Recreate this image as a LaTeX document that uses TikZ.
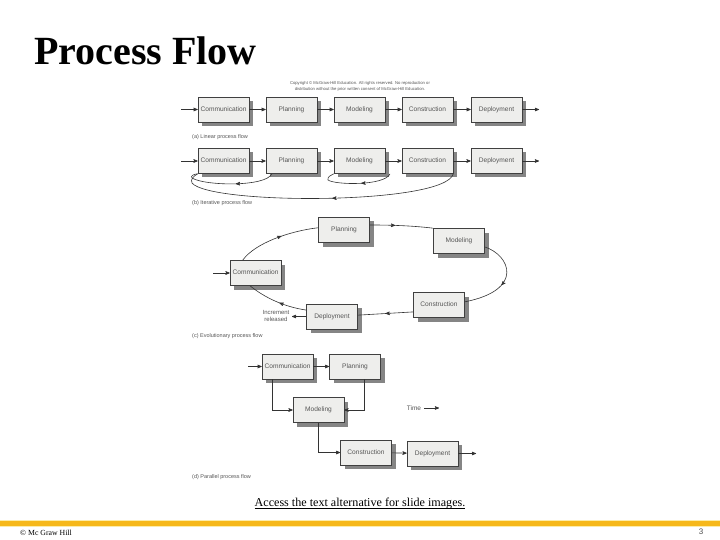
\documentclass[tikz,border=0pt]{standalone}
\usepackage{fontspec}
\setmainfont{Liberation Serif}
\newfontfamily\boxfont{Liberation Sans}
\usetikzlibrary{arrows}
\usetikzlibrary{shadows}
\usetikzlibrary{decorations.markings}
\definecolor{barGold}{RGB}{246,184,26}
\definecolor{barPale}{RGB}{252,236,170}
\definecolor{boxFill}{RGB}{238,238,236}
\definecolor{boxText}{RGB}{85,85,85}
\tikzset{
	node_box/.style = {
		rectangle,
		inner sep=0pt,
		align=center,
		draw=black!75,
		line width=0.6pt,
		fill=boxFill,
		text=boxText,
		font=\boxfont\fontsize{6.6}{7}\selectfont,
		text height=5pt,
		text depth=1.4pt,
		minimum width=51pt,
		minimum height=25pt,
		drop shadow={shadow xshift=4pt, shadow yshift=-4pt, fill=black!48, opacity=1}
	},
	node_cap/.style = {
		inner sep=0pt,
		anchor=west,
		text=boxText,
		font=\boxfont\fontsize{5.5}{6.5}\selectfont
	},
	node_note/.style = {
		node_cap,
		anchor=center,
		align=center,
		font=\boxfont\fontsize{4.2}{6}\selectfont
	},
	flow/.style = {
		->,
		line width=0.6pt,
		draw=black!80
	},
	mid_flow/.style = {
		line width=0.6pt,
		draw=black!80,
		postaction={decorate},
		decoration={markings, mark=at position #1 with {\arrow{stealth'}}}
	},
}
\begin{document}
\begin{tikzpicture}[>=stealth', x=1pt, y=-1pt]
\useasboundingbox (0,0) rectangle (720,540);
\node [inner sep=0pt, anchor=west, font=\fontsize{40}{42}\selectfont\bfseries] (title) at (34,51) {Process Flow};
\node [node_note] (copyright) at (360,86) {Copyright \copyright\ McGraw-Hill Education. All rights reserved. No reproduction or\\distribution without the prior written consent of McGraw-Hill Education.};

% linear
\node [node_box] (comm_a) at (223.5,109.5) {Communication};
\node [node_box] (plan_a) at (291.5,109.5) {Planning};
\node [node_box] (model_a) at (359.5,109.5) {Modeling};
\node [node_box] (cons_a) at (427.5,109.5) {Construction};
\node [node_box] (depl_a) at (496.5,109.5) {Deployment};
\coordinate (in_a) at (181,109.5);
\coordinate (out_a) at (539,109.5);
\node [node_cap] (cap_a) at (192,137) {(a) Linear process flow};
\draw [flow] (in_a) -- (comm_a);
\draw [flow] (comm_a) -- (plan_a);
\draw [flow] (plan_a) -- (model_a);
\draw [flow] (model_a) -- (cons_a);
\draw [flow] (cons_a) -- (depl_a);
\draw [flow] (depl_a) -- (out_a);

% iterative
\node [node_box] (comm_b) at (223.5,161) {Communication};
\node [node_box] (plan_b) at (291.5,161) {Planning};
\node [node_box] (model_b) at (359.5,161) {Modeling};
\node [node_box] (cons_b) at (427.5,161) {Construction};
\node [node_box] (depl_b) at (496.5,161) {Deployment};
\coordinate (in_b) at (181,161);
\coordinate (out_b) at (539,161);
\coordinate (loop_r) at (390,174);
\node [node_cap] (cap_b) at (192,203) {(b) Iterative process flow};
\draw [flow] (in_b) -- (comm_b);
\draw [flow] (comm_b) -- (plan_b);
\draw [flow] (plan_b) -- (model_b);
\draw [flow] (model_b) -- (cons_b);
\draw [flow] (cons_b) -- (depl_b);
\draw [flow] (depl_b) -- (out_b);
\draw [mid_flow=0.42] (plan_b.213) .. controls (266,187) and (205,186) .. (192,178) .. controls (190,176) and (194,174) .. (comm_b.south west);
\draw [mid_flow=0.42] (loop_r) .. controls (384,186) and (335,185) .. (328,180) .. controls (327,177) and (331,175) .. (model_b.south west);
\draw [mid_flow=0.45] (cons_b.south east) .. controls (445,205) and (210,205) .. (192,183) .. controls (190,179) and (194,176) .. (comm_b.south west);

% evolutionary
\node [node_box] (comm_c) at (255.5,273) {Communication};
\node [node_box] (plan_c) at (344,230) {Planning};
\node [node_box] (model_c) at (459,241) {Modeling};
\node [node_box] (cons_c) at (439,305) {Construction};
\node [node_box] (depl_c) at (332,316.5) {Deployment};
\coordinate (in_c) at (213,273);
\coordinate (done_c) at (292,316.5);
\node [node_cap, anchor=center, align=center, font=\boxfont\fontsize{6}{7}\selectfont] (done_lab) at (276,316) {Increment\\released};
\node [node_cap] (cap_c) at (192,336) {(c) Evolutionary process flow};
\draw [flow] (in_c) -- (comm_c);
\draw [mid_flow=0.55] (comm_c.135) .. controls (255,243) and (290,231) .. (plan_c.175);
\draw [mid_flow=0.4] (plan_c.11) .. controls (395,225) and (415,226) .. (model_c.north west);
\draw [mid_flow=0.55] (model_c.-13) .. controls (510,255) and (525,290) .. (cons_c.7);
\draw [mid_flow=0.5] (cons_c.195) -- (depl_c.3);
\draw [mid_flow=0.45] (depl_c.166) .. controls (285,307) and (265,298) .. (comm_c.247);
\draw [flow] (depl_c) -- (done_c);

% parallel
\node [node_box] (comm_d) at (287.5,366.5) {Communication};
\node [node_box] (plan_d) at (355,366.5) {Planning};
\node [node_box] (model_d) at (318.5,410) {Modeling};
\node [node_box] (cons_d) at (366,452.5) {Construction};
\node [node_box] (depl_d) at (432.5,453.5) {Deployment};
\coordinate (in_d) at (248,366.5);
\coordinate (out_d) at (476,453.5);
\coordinate (time_end) at (439,408);
\node [node_cap, anchor=center, outer sep=3pt, font=\boxfont\fontsize{6.5}{7}\selectfont] (time_lab) at (414,408) {Time};
\node [node_cap] (cap_d) at (192,477) {(d) Parallel process flow};
\draw [flow] (in_d) -- (comm_d);
\draw [flow] (comm_d) -- (plan_d);
\draw [flow] (comm_d.221) |- (model_d.west);
\draw [flow] (plan_d.306) |- (model_d.east);
\draw [flow] (model_d.south) |- (cons_d.west);
\draw [flow] (cons_d) -- (depl_d);
\draw [flow] (depl_d) -- (out_d);
\draw [flow] (time_lab) -- (time_end);

% footer
\node [inner sep=0pt, anchor=base, font=\fontsize{12.1}{14}\selectfont] (access) at (360,506) {\underline{\smash{Access the text alternative for slide images.}\rule[-1pt]{0pt}{0pt}}};
\fill [barPale] (0,520) rectangle (720,527);
\fill [barGold] (0,521) rectangle (720,526);
\node [inner sep=0pt, anchor=west, font=\fontsize{7.8}{10}\selectfont] (owner) at (20,533) {\copyright\ Mc Graw Hill};
\node [inner sep=0pt, font=\boxfont\fontsize{8}{10}\selectfont, text=black!70] (page_no) at (701,532) {3};
\end{tikzpicture}
\end{document}
